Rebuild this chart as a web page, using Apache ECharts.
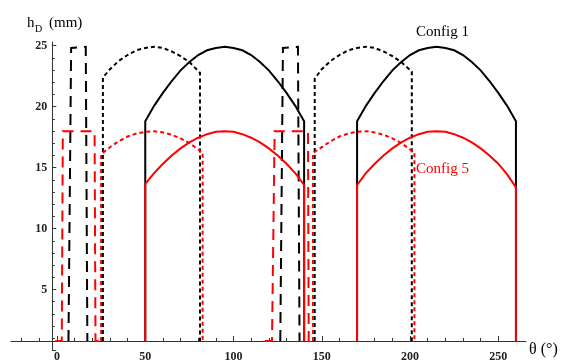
<!DOCTYPE html>
<html><head><meta charset="utf-8">
<script src="https://cdn.jsdelivr.net/npm/echarts@6/dist/echarts.min.js"></script>
<style>html,body{margin:0;padding:0;background:#fff}#c{width:561px;height:363px}</style>
</head><body><div id="c"></div>
<script>
// ---- axis ticks / labels ----
const xMajorTicks = [0, 50, 100, 150, 200, 250];
const xMinorTicks = [-20, -10, 10, 20, 30, 40, 60, 70, 80, 90, 110, 120, 130, 140, 160, 170, 180, 190, 210, 220, 230, 240, 260];
const yMajorTicks = [0, 5, 10, 15, 20, 25];
const yMajorLabels = [5, 10, 15, 20, 25];
const yMinorTicks = [1, 2, 3, 4, 6, 7, 8, 9, 11, 12, 13, 14, 16, 17, 18, 19, 21, 22, 23, 24];

// ---- Config 1 (black) ----
// solid
const c1SolidTheta1 = [50, 50, 55, 60, 65, 70, 75, 80, 85, 90, 95, 100, 105, 110, 115, 120, 125, 130, 135, 140, 140];
const c1SolidH1     = [0, 18.6, 19.9, 21.0, 22.0, 22.9, 23.6, 24.2, 24.6, 24.8, 24.9, 24.8, 24.6, 24.2, 23.6, 22.9, 22.0, 21.0, 19.9, 18.6, 0];
const c1SolidTheta2 = [170, 170, 175, 180, 185, 190, 195, 200, 205, 210, 215, 220, 225, 230, 235, 240, 245, 250, 255, 260, 260];
const c1SolidH2     = [0, 18.6, 19.9, 21.0, 22.0, 22.9, 23.6, 24.2, 24.6, 24.8, 24.9, 24.8, 24.6, 24.2, 23.6, 22.9, 22.0, 21.0, 19.9, 18.6, 0];
// dotted
const c1DotTheta1 = [26, 26, 30, 35, 40, 45, 50, 55, 60, 65, 70, 75, 81, 81];
const c1DotH1     = [0, 22.3, 23.0, 23.7, 24.2, 24.6, 24.8, 24.9, 24.8, 24.5, 24.1, 23.6, 22.7, 0];
const c1DotTheta2 = [146, 146, 150, 155, 160, 165, 170, 175, 180, 185, 190, 195, 201, 201];
const c1DotH2     = [0, 22.2, 23.0, 23.7, 24.2, 24.6, 24.8, 24.9, 24.8, 24.5, 24.1, 23.6, 22.8, 0];
// dashed
const c1DashTheta1 = [6.5, 8, 16.3, 17.2];
const c1DashH1     = [0, 24.8, 24.9, 0];
const c1DashTheta2 = [126.5, 128, 136.5, 137.4];
const c1DashH2     = [0, 24.8, 24.9, 0];

// ---- Config 5 (red) ----
const c5SolidTheta1 = [50, 50, 55, 60, 65, 70, 75, 80, 85, 90, 95, 100, 105, 110, 115, 120, 125, 130, 135, 140, 140];
const c5SolidH1     = [0, 13.3, 14.2, 15.0, 15.7, 16.3, 16.8, 17.2, 17.5, 17.7, 17.75, 17.7, 17.5, 17.2, 16.8, 16.3, 15.7, 15.0, 14.2, 13.2, 0];
const c5SolidTheta2 = [170, 170, 175, 180, 185, 190, 195, 200, 205, 210, 215, 220, 225, 230, 235, 240, 245, 250, 255, 260, 260];
const c5SolidH2     = [0, 13.2, 14.2, 15.0, 15.7, 16.3, 16.8, 17.2, 17.5, 17.7, 17.75, 17.7, 17.5, 17.2, 16.8, 16.3, 15.7, 15.0, 14.1, 13.0, 0];
const c5DotTheta1 = [25, 25, 30, 35, 40, 45, 50, 55, 60, 65, 70, 75, 80, 82.5, 82.5];
const c5DotH1     = [0, 15.8, 16.4, 16.9, 17.3, 17.55, 17.7, 17.75, 17.65, 17.45, 17.15, 16.75, 16.2, 15.95, 0];
const c5DotTheta2 = [145, 145, 150, 155, 160, 165, 170, 175, 180, 185, 190, 195, 200, 202.5, 202.5];
const c5DotH2     = [0, 15.9, 16.4, 16.9, 17.3, 17.55, 17.7, 17.75, 17.65, 17.45, 17.15, 16.75, 16.2, 15.95, 0];
const c5DashTheta1 = [-1, 2.7, 3.3, 21.3, 21.8, 27];
const c5DashH1     = [0, 0, 17.75, 17.75, 0, 0];
const c5DashTheta2 = [117.8, 121.8, 123.3, 142.2, 142.6, 146];
const c5DashH2     = [0, 0, 17.75, 17.75, 0, 0];

const X_MIN = -26.06, X_MAX = 265.7, Y_MIN = 0, Y_MAX = 25.3;
const SERIF = '"Liberation Serif", "DejaVu Serif", serif';
const AXIS_COLOR = '#333';

function pairs(t, h) { return t.map((v, i) => [v, h[i]]); }
function line(t, h, color, type) {
  return {
    type: 'line', xAxisIndex: 0, yAxisIndex: 0, data: pairs(t, h),
    showSymbol: false, symbol: 'none', silent: true, animation: false,
    lineStyle: { color: color, width: 2, type: type, cap: 'butt', join: 'miter' }
  };
}
const DOT = [4, 3], DASH = [11, 7];

const chart = echarts.init(document.getElementById('c'), null, { renderer: 'canvas' });
chart.setOption({
  animation: false,
  backgroundColor: '#fff',
  grid: [
    { left: 11, right: 35, top: 42, bottom: 12.5 },
    { left: 52.3, right: 35, top: 42, bottom: 12.5 }
  ],
  xAxis: [
    { gridIndex: 0, type: 'value', min: X_MIN, max: X_MAX, position: 'bottom',
      axisLine: { show: true, onZero: false, lineStyle: { color: AXIS_COLOR, width: 1 } },
      axisTick: { show: true, inside: true, length: 5, customValues: xMajorTicks, lineStyle: { color: AXIS_COLOR } },
      axisLabel: { customValues: xMajorTicks, margin: 10, fontFamily: SERIF, fontWeight: 'bold', fontSize: 12, color: '#222' },
      splitLine: { show: false } },
    { gridIndex: 0, type: 'value', min: X_MIN, max: X_MAX, position: 'bottom',
      axisLine: { show: false, onZero: false },
      axisTick: { show: true, inside: true, length: 3, customValues: xMinorTicks, lineStyle: { color: AXIS_COLOR } },
      axisLabel: { show: false }, splitLine: { show: false } },
    { gridIndex: 1, type: 'value', min: 0, max: 1, show: false }
  ],
  yAxis: [
    { gridIndex: 0, type: 'value', min: Y_MIN, max: Y_MAX, show: false },
    { gridIndex: 1, type: 'value', min: Y_MIN, max: Y_MAX, position: 'left',
      axisLine: { show: true, onZero: false, lineStyle: { color: AXIS_COLOR, width: 1 } },
      axisTick: { show: true, inside: true, length: 4, customValues: yMajorTicks, lineStyle: { color: AXIS_COLOR } },
      axisLabel: { customValues: yMajorLabels, margin: 5, fontFamily: SERIF, fontWeight: 'bold', fontSize: 12, color: '#222' },
      splitLine: { show: false } },
    { gridIndex: 1, type: 'value', min: Y_MIN, max: Y_MAX, position: 'left',
      axisLine: { show: false, onZero: false },
      axisTick: { show: true, inside: true, length: 2.5, customValues: yMinorTicks, lineStyle: { color: AXIS_COLOR } },
      axisLabel: { show: false }, splitLine: { show: false } }
  ],
  graphic: [
    { type: 'text', x: 27, y: 23, style: { text: 'h', font: '15px ' + SERIF, fill: '#000', verticalAlign: 'middle' } },
    { type: 'text', x: 35, y: 29, style: { text: 'D', font: '10px ' + SERIF, fill: '#000', verticalAlign: 'middle' } },
    { type: 'text', x: 49, y: 23, style: { text: '(mm)', font: '15px ' + SERIF, fill: '#000', verticalAlign: 'middle' } },
    { type: 'text', x: 529, y: 350, style: { text: 'θ (°)', font: '16px ' + SERIF, fill: '#000', verticalAlign: 'middle' } },
    { type: 'text', x: 416, y: 32, style: { text: 'Config 1', font: '15px ' + SERIF, fill: '#000', verticalAlign: 'middle' } },
    { type: 'text', x: 416, y: 169, style: { text: 'Config 5', font: '15px ' + SERIF, fill: '#ff0000', verticalAlign: 'middle' } }
  ],
  series: [
    line(c1DotTheta1, c1DotH1, '#000', DOT),
    line(c1DotTheta2, c1DotH2, '#000', DOT),
    line(c1DashTheta1, c1DashH1, '#000', DASH),
    line(c1DashTheta2, c1DashH2, '#000', DASH),
    line(c1SolidTheta1, c1SolidH1, '#000', 'solid'),
    line(c1SolidTheta2, c1SolidH2, '#000', 'solid'),
    line(c5DotTheta1, c5DotH1, '#ff0000', DOT),
    line(c5DotTheta2, c5DotH2, '#ff0000', DOT),
    line(c5DashTheta1, c5DashH1, '#ff0000', DASH),
    line(c5DashTheta2, c5DashH2, '#ff0000', DASH),
    line(c5SolidTheta1, c5SolidH1, '#ff0000', 'solid'),
    line(c5SolidTheta2, c5SolidH2, '#ff0000', 'solid')
  ]
});
</script>
</body></html>
